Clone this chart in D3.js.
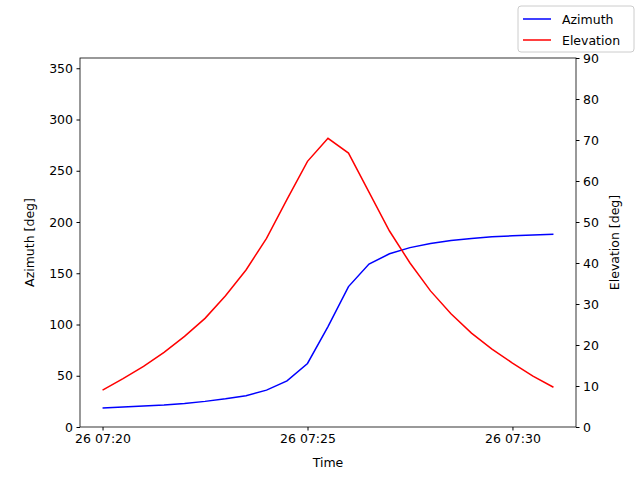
<!DOCTYPE html>
<html><head><meta charset="utf-8">
<script src="https://cdn.jsdelivr.net/npm/d3@7"></script>
<style>body{margin:0;background:#fff}text{font-family:"DejaVu Sans",sans-serif}</style>
</head><body><svg id="c" width="640" height="480"></svg>
<script>
const startTime = "2024-01-26T07:20:00";
const stepSeconds = 30;
const azimuth = [18.5,19.5,20.5,21.5,23,25,27.5,30.5,36,45,62,98,137,159,169,175,179,182,184,185.5,186.5,187.3,188];
const elevation = [9,11.8,14.8,18.2,22.1,26.5,32,38.3,46,55.5,64.8,70.4,66.8,57.3,47.8,40,33.2,27.6,22.9,19,15.6,12.4,9.7];
const azTicks = [0,50,100,150,200,250,300,350];
const elTicks = [0,10,20,30,40,50,60,70,80,90];
const timeTicks = ["2024-01-26T07:20:00","2024-01-26T07:25:00","2024-01-26T07:30:00"];

const t0 = new Date(startTime).getTime();
const times = azimuth.map((_,i)=>new Date(t0+i*stepSeconds*1000));
const L=80,R=576,T=58,B=427;
const svg=d3.select("#c");
const x=d3.scaleTime().domain([new Date(t0-33000),new Date(t0+693000)]).range([L,R]);
const yA=d3.scaleLinear().domain([0,360]).range([B,T]);
const yE=d3.scaleLinear().domain([0,90]).range([B,T]);
const fmt=d3.timeFormat("%d %H:%M");
svg.append("g").attr("transform",`translate(0,${B})`).call(d3.axisBottom(x).tickValues(timeTicks.map(s=>new Date(s))).tickFormat(fmt).tickSizeOuter(0).tickSize(3.5).tickPadding(3.5));
svg.append("g").attr("transform",`translate(${L},0)`).call(d3.axisLeft(yA).tickValues(azTicks).tickSizeOuter(0).tickSize(3.5).tickPadding(3.5));
svg.append("g").attr("transform",`translate(${R},0)`).call(d3.axisRight(yE).tickValues(elTicks).tickSizeOuter(0).tickSize(3.5).tickPadding(3.5));
svg.selectAll(".tick text").attr("font-size",12.5).attr("fill","#000");
svg.selectAll(".domain").remove();
svg.selectAll(".tick line").attr("stroke","#000");
svg.append("rect").attr("x",L).attr("y",T).attr("width",R-L).attr("height",B-T).attr("fill","none").attr("stroke","#000").attr("stroke-width",0.8);
const lineA=d3.line().x((d,i)=>x(times[i])).y(d=>yA(d));
const lineE=d3.line().x((d,i)=>x(times[i])).y(d=>yE(d));
svg.append("path").attr("d",lineA(azimuth)).attr("fill","none").attr("stroke","blue").attr("stroke-width",1.5);
svg.append("path").attr("d",lineE(elevation)).attr("fill","none").attr("stroke","red").attr("stroke-width",1.5);
svg.append("text").attr("x",(L+R)/2).attr("y",467).attr("text-anchor","middle").attr("font-size",12.5).text("Time");
svg.append("text").attr("transform",`translate(34,${(T+B)/2}) rotate(-90)`).attr("text-anchor","middle").attr("font-size",12.5).text("Azimuth [deg]");
svg.append("text").attr("transform",`translate(619,${(T+B)/2}) rotate(-90)`).attr("text-anchor","middle").attr("font-size",12.5).text("Elevation [deg]");
const lg=svg.append("g");
lg.append("rect").attr("x",518).attr("y",6).attr("width",116).attr("height",46).attr("rx",3).attr("fill","#fff").attr("stroke","#ccc");
[["Azimuth","blue"],["Elevation","red"]].forEach((d,i)=>{
  const yy=19+i*21;
  lg.append("line").attr("x1",523).attr("x2",551).attr("y1",yy).attr("y2",yy).attr("stroke",d[1]).attr("stroke-width",1.5);
  lg.append("text").attr("x",562).attr("y",yy+4.5).attr("font-size",12.5).text(d[0]);
});
</script></body></html>
